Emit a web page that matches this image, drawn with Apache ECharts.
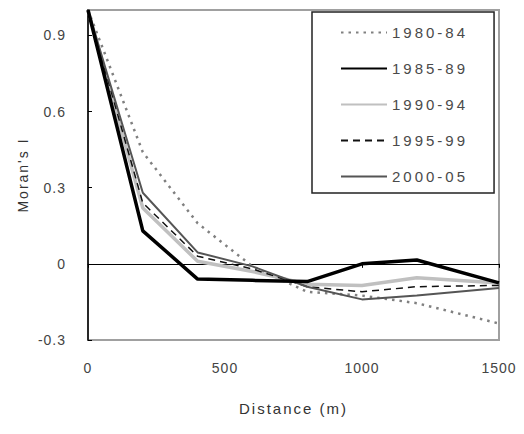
<!DOCTYPE html>
<html>
<head>
<meta charset="utf-8">
<script src="https://cdn.jsdelivr.net/npm/echarts@6/dist/echarts.min.js"></script>
<style>
html,body{margin:0;padding:0;background:#fff;}
#chart{width:524px;height:434px;}
#chart svg text{letter-spacing:1px;}
#chart svg text.lg{letter-spacing:3px;}
#chart svg text.an{letter-spacing:2px;}
</style>
</head>
<body>
<div id="chart"></div>
<script>
// Distance (m)
const distances = [0, 200, 400, 600, 800, 1000, 1200, 1500];
// Moran's I by period
const p1980_84 = [1.0, 0.44, 0.16, -0.01, -0.11, -0.125, -0.155, -0.235];
const p1985_89 = [1.0, 0.13, -0.06, -0.065, -0.07, 0.0, 0.015, -0.075];
const p1990_94 = [1.0, 0.22, 0.01, -0.03, -0.08, -0.085, -0.055, -0.075];
const p1995_99 = [1.0, 0.24, 0.03, -0.02, -0.09, -0.11, -0.09, -0.085];
const p2000_05 = [1.0, 0.28, 0.045, -0.01, -0.09, -0.14, -0.125, -0.095];
const seriesNames = ['1980-84', '1985-89', '1990-94', '1995-99', '2000-05'];
const xTicks = [0, 500, 1000, 1500];
const xName = 'Distance (m)';
const yName = "Moran's I";

const FONT = 'Liberation Sans';
function pairs(vals) { return distances.map((d, i) => [d, vals[i]]); }

const chart = echarts.init(document.getElementById('chart'), null, {renderer: 'svg'});
chart.setOption({
  animation: false,
  backgroundColor: '#fff',
  grid: {left: 88, right: 25, top: 10, bottom: 94, show: true, borderColor: '#a0a0a0', borderWidth: 2, backgroundColor: 'transparent'},
  legend: {
    data: seriesNames,
    orient: 'vertical',
    left: 312, top: 12,
    padding: [13, 47, 9, 28],
    itemWidth: 46, itemHeight: 14, itemGap: 21,
    borderColor: '#222', borderWidth: 1.5,
    backgroundColor: '#fff',
    itemStyle: {opacity: 0},
    textStyle: {fontFamily: FONT, fontSize: 15, color: '#4a4a4a'}
  },
  xAxis: [
    {
      type: 'value', min: 0, max: 1500, interval: 500, position: 'bottom',
      axisLine: {show: false, onZero: false}, axisTick: {show: false}, splitLine: {show: false},
      axisLabel: {margin: 21, fontFamily: FONT, fontSize: 14, color: '#444',
        formatter: v => xTicks.indexOf(v) >= 0 ? String(v) : ''},
      name: xName, nameLocation: 'middle', nameGap: 61,
      nameTextStyle: {fontFamily: FONT, fontSize: 15, color: '#333'}
    },
    {
      type: 'value', min: 0, max: 1500, interval: 500, position: 'top',
      axisLine: {show: true, onZero: true, lineStyle: {color: '#000', width: 1}},
      axisTick: {show: true, inside: true, length: 4, lineStyle: {color: '#000'}},
      axisLabel: {show: false}, splitLine: {show: false}
    }
  ],
  yAxis: {
    type: 'value', min: -0.3, max: 1.0, interval: 0.3,
    axisLine: {show: true, onZero: false, lineStyle: {color: '#000', width: 1.5}},
    axisTick: {show: true, inside: true, length: 4, lineStyle: {color: '#000'}},
    splitLine: {show: false},
    axisLabel: {margin: 22, fontFamily: FONT, fontSize: 14, color: '#444', showMaxLabel: false,
      formatter: v => Math.abs(v) < 1e-9 ? '0' : String(+v.toFixed(1))},
    name: yName, nameLocation: 'middle', nameGap: 58,
    nameTextStyle: {fontFamily: FONT, fontSize: 14, color: '#333'}
  },
  series: [
    {name: seriesNames[0], type: 'line', data: pairs(p1980_84), symbol: 'none', z: 3,
     lineStyle: {color: '#808080', width: 2.5, type: [2.5, 5]}},
    {name: seriesNames[2], type: 'line', data: pairs(p1990_94), symbol: 'none', z: 4,
     lineStyle: {color: '#c0c0c0', width: 3.5}},
    {name: seriesNames[3], type: 'line', data: pairs(p1995_99), symbol: 'none', z: 5,
     lineStyle: {color: '#111', width: 1.5, type: [7, 5]}},
    {name: seriesNames[4], type: 'line', data: pairs(p2000_05), symbol: 'none', z: 5,
     lineStyle: {color: '#555', width: 2}},
    {name: seriesNames[1], type: 'line', data: pairs(p1985_89), symbol: 'none', z: 6,
     lineStyle: {color: '#000', width: 3.5}}
  ]
});

function tagTexts() {
  document.querySelectorAll('#chart svg text').forEach(t => {
    const s = t.textContent;
    if (seriesNames.indexOf(s) >= 0) t.classList.add('lg');
    else if (s === xName || s === yName) t.classList.add('an');
  });
}
tagTexts();
chart.on('finished', tagTexts);
</script>
</body>
</html>
